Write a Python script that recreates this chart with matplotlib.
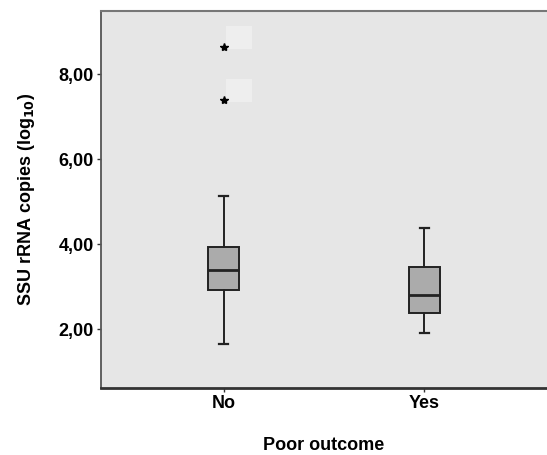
import matplotlib
matplotlib.use('Agg')
from matplotlib import pyplot as plt

plt.rcParams['font.family'] = ['Liberation Sans', 'DejaVu Sans']

# Values (log10 copies)
groups = ['No', 'Yes']
whislo = [1.66, 1.91]
q1 = [2.92, 2.38]
med = [3.39, 2.81]
q3 = [3.94, 3.47]
whishi = [5.14, 4.38]
outliers = [[7.40, 8.64], []]
yticks = [2, 4, 6, 8]
ytick_labels = ['2,00', '4,00', '6,00', '8,00']

stats = []
for i in range(len(groups)):
    stats.append({'label': groups[i], 'whislo': whislo[i], 'q1': q1[i],
                  'med': med[i], 'q3': q3[i], 'whishi': whishi[i],
                  'fliers': outliers[i]})

fig = plt.figure(figsize=(5.47, 4.55), dpi=100)
ax = fig.add_axes([0.1846, 0.1473, 0.8154, 0.8286])
ax.set_facecolor('#e6e6e6')

line_col = '#222222'
ax.bxp(stats, positions=[1, 2], widths=0.158, capwidths=0.045,
       patch_artist=True,
       boxprops=dict(facecolor='#ababab', edgecolor=line_col, linewidth=1.4),
       medianprops=dict(color=line_col, linewidth=2.0),
       whiskerprops=dict(color=line_col, linewidth=1.4),
       capprops=dict(color=line_col, linewidth=1.6),
       flierprops=dict(marker='*', markerfacecolor='black', markeredgecolor='black',
                       markersize=6, linestyle='none', zorder=3))

# faint case-label boxes next to the outliers
for v in outliers[0]:
    ax.annotate('    ', xy=(1, v), xytext=(5, 4), textcoords='offset points',
                fontsize=11, color='#eeeeee', zorder=1,
                bbox=dict(boxstyle='square,pad=0.3', facecolor='#eeeeee', edgecolor='none'))

ax.set_xlim(0.39, 2.61)
ax.set_ylim(0.62, 9.49)
ax.set_yticks(yticks)
ax.set_yticklabels(ytick_labels, fontsize=13, fontweight='bold')
ax.set_xticks([1, 2])
ax.set_xticklabels(groups, fontsize=13, fontweight='bold')
ax.tick_params(axis='both', direction='out', length=3, width=1, color='#333333', pad=2)

ax.set_ylabel('SSU rRNA copies (log$_{\\mathbf{10}}$)', fontsize=13, fontweight='bold', labelpad=16)
ax.set_xlabel('Poor outcome', fontsize=13, fontweight='bold', labelpad=18)

ax.spines['right'].set_visible(False)
ax.spines['top'].set_color('#777777')
ax.spines['top'].set_linewidth(1.5)
ax.spines['left'].set_color('#555555')
ax.spines['left'].set_linewidth(1.3)
ax.spines['bottom'].set_color('#333333')
ax.spines['bottom'].set_linewidth(2)

fig.savefig('out.png', dpi=100)
